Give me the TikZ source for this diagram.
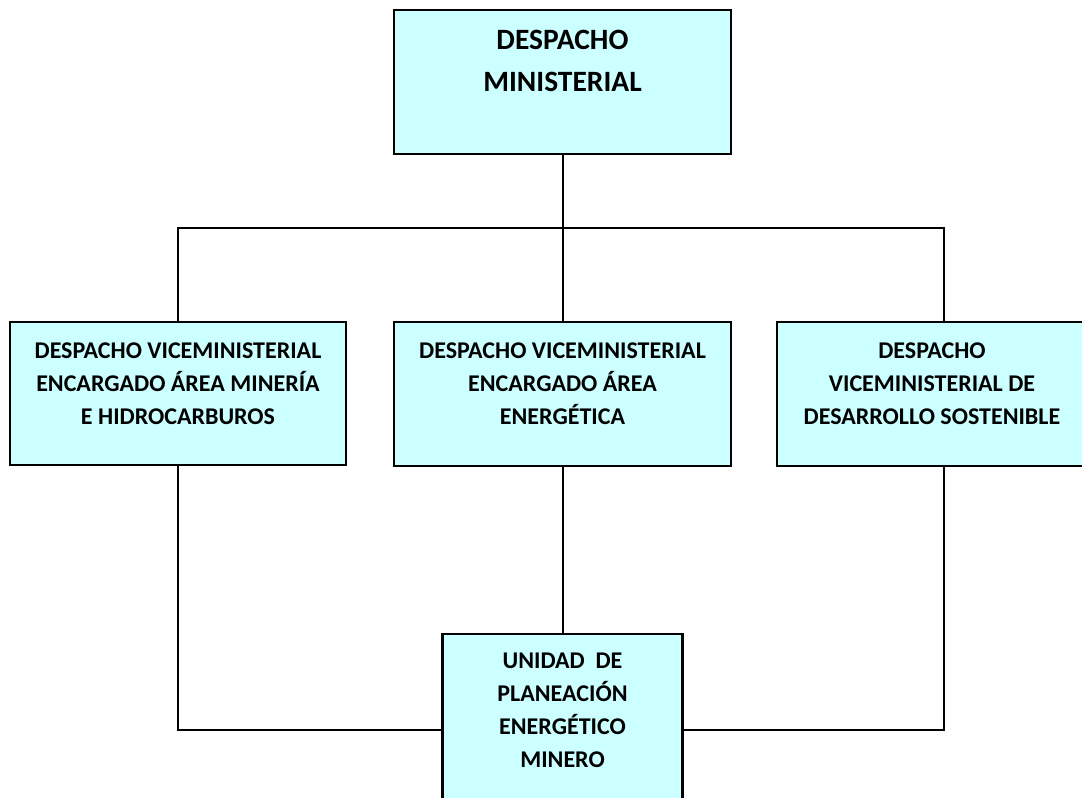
\documentclass[tikz,border=0pt]{standalone}
\usepackage{fontspec}
\setmainfont{Carlito}
\definecolor{boxfill}{HTML}{CCFFFF}
\begin{document}
\begin{tikzpicture}[x=1pt,y=-1pt,
  orgbox/.style={draw=black, line width=2.2pt, fill=boxfill, rectangle, inner sep=0pt},
  bigtxt/.style={font={\fontsize{29.5}{42}\selectfont\bfseries}, align=center, inner sep=0pt, anchor=base},
  txt/.style={font={\fontsize{24}{33}\selectfont\bfseries}, align=center, inner sep=0pt, anchor=base},
  link/.style={draw=black, line width=2pt}]
\useasboundingbox (0,0) rectangle (1082,798);
\clip (0,0) rectangle (1082,798);
\fill[white] (0,0) rectangle (1082,798);
% boxes
\node[orgbox, minimum width=337pt, minimum height=144pt] (top) at (562.5,82) {};
\node[orgbox, minimum width=336pt, minimum height=143pt] (left) at (178,393.5) {};
\node[orgbox, minimum width=337pt, minimum height=144pt] (mid) at (562.5,394) {};
\node[orgbox, minimum width=334pt, minimum height=144pt] (right) at (944,394) {};
\node[orgbox, minimum width=240pt, minimum height=192pt] (bot) at (562.5,730) {};
% texts (anchor=base is the baseline of the last line)
\node[bigtxt] (ttop) at (562.5,91) {DESPACHO\\MINISTERIAL};
\node[txt] (tleft) at (178,424) {DESPACHO VICEMINISTERIAL\\ENCARGADO ÁREA MINERÍA\\E HIDROCARBUROS};
\node[txt] (tmid) at (562.5,424) {DESPACHO VICEMINISTERIAL\\ENCARGADO ÁREA\\ENERGÉTICA};
\node[txt] (tright) at (932,424) {DESPACHO\\VICEMINISTERIAL DE\\DESARROLLO SOSTENIBLE};
\node[txt] (tbot) at (562.5,767) {UNIDAD\ \ DE\\PLANEACIÓN\\ENERGÉTICO\\MINERO};
% connectors
\coordinate (j) at (562.5,228);
\draw[link] (top.south) -- (j);
\draw[link] (left.north) |- (j) -| (right.north);
\draw[link] (j) -- (mid.north);
\draw[link] (mid.south) -- (bot.north);
\draw[link] (left.south) |- (bot.west);
\draw[link] (right.south) |- (bot.east);
\end{tikzpicture}
\end{document}
